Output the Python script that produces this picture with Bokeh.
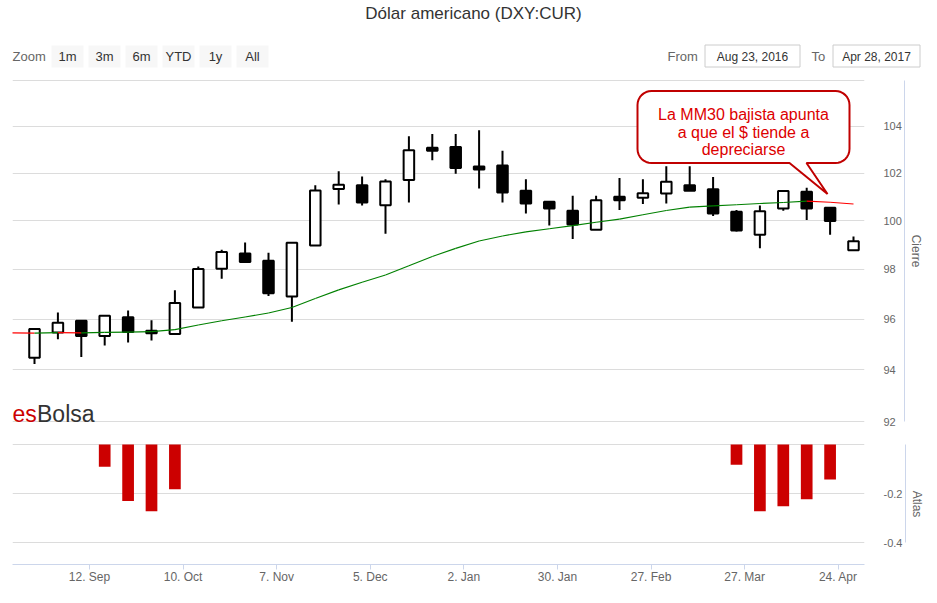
import math
from bokeh.plotting import figure
from bokeh.models import Range1d, LinearAxis, FixedTicker, Grid, ColumnDataSource
from bokeh.layouts import column
from bokeh.embed import file_html
from bokeh.resources import INLINE
from bokeh.core.properties import value

# ---------------- data ----------------
title_text = "Dólar americano (DXY:CUR)"
zoom_buttons = ["1m", "3m", "6m", "YTD", "1y", "All"]
range_from = "Aug 23, 2016"
range_to = "Apr 28, 2017"

# weekly candles (index 0 = first week shown)
opens = [94.47, 95.46, 95.93, 95.33, 96.07, 95.53, 95.41, 96.46, 98.03, 98.65,
         98.35, 96.90, 98.98, 101.33, 101.49, 100.65, 101.71, 103.08, 103.11, 102.28,
         102.32, 101.25, 100.79, 100.42, 99.63, 101.00, 100.96, 101.14, 101.49, 101.32,
         100.38, 99.42, 100.51, 101.21, 100.54, 98.78]
highs = [95.62, 96.26, 95.95, 96.15, 96.34, 95.95, 97.16, 98.12, 98.80, 99.10,
         98.68, 99.12, 101.49, 102.08, 101.86, 101.74, 103.57, 103.67, 103.67, 103.83,
         102.95, 101.74, 100.82, 101.04, 101.04, 101.79, 101.74, 102.29, 102.29, 101.83,
         100.45, 100.64, 101.28, 101.38, 100.56, 99.35]
lows = [94.22, 95.20, 94.50, 94.95, 95.07, 95.15, 95.40, 96.45, 97.62, 98.26,
        96.92, 95.89, 98.97, 100.68, 100.64, 99.46, 100.76, 102.55, 101.97, 101.35,
        100.76, 100.30, 99.80, 99.25, 99.62, 100.45, 100.70, 100.72, 101.24, 100.20,
        99.56, 98.87, 100.42, 100.03, 99.42, 98.76]
closes = [95.60, 95.85, 95.33, 96.13, 95.48, 95.44, 96.64, 98.02, 98.71, 98.30,
          97.03, 99.09, 101.27, 101.51, 100.76, 101.65, 102.97, 102.95, 102.22, 102.15,
          101.18, 100.72, 100.51, 99.85, 100.86, 100.86, 101.15, 101.63, 101.26, 100.30,
          99.60, 100.40, 101.24, 100.51, 99.99, 99.15]

# 30-period moving average, from the week before the first candle (index -1) to the last
ma30 = [95.45, 95.44, 95.46, 95.45, 95.47, 95.48, 95.50, 95.58, 95.76, 95.93,
        96.08, 96.24, 96.46, 96.82, 97.17, 97.48, 97.77, 98.15, 98.53, 98.86,
        99.16, 99.37, 99.54, 99.67, 99.80, 99.94, 100.07, 100.25, 100.43, 100.57,
        100.62, 100.67, 100.72, 100.76, 100.82, 100.77, 100.70]

atlas_weeks = [3, 4, 5, 6, 30, 31, 32, 33, 34]
atlas_values = [-0.091, -0.231, -0.272, -0.183, -0.083, -0.272, -0.252, -0.223, -0.143]

price_ticks = [92, 94, 96, 98, 100, 102, 104, 106]
price_labels = ["92", "94", "96", "98", "100", "102", "104", ""]
atlas_ticks = [0.0, -0.2, -0.4]
atlas_labels = ["", "-0.2", "-0.4"]
x_tick_labels = ["12. Sep", "10. Oct", "7. Nov", "5. Dec", "2. Jan",
                 "30. Jan", "27. Feb", "27. Mar", "24. Apr"]
callout_lines = ["La MM30 bajista apunta", "a que el $ tiende a", "depreciarse"]
brand = ["es", "Bolsa"]

# ---------------- styles / layout ----------------
FONT = "Liberation Sans"
GRID_C = "#dcdcdc"
AXIS_C = "#ccd6eb"
LABEL_C = "#666666"
W = 921
LEFT = 12
SLOT = 23.4          # px per weekly candle
FIRST = 22.0         # px from frame left to first candle
FRAME_W = 852
xr = Range1d(-FIRST / SLOT, (FRAME_W - FIRST) / SLOT)

HDR_H = 76
TOP_FRAME_H = 343
TOP_PAD = 1          # px between frame edge and outer grid lines
k = math.log(price_ticks[-1] / price_ticks[0]) / (TOP_FRAME_H - 2 * TOP_PAD)
yr_top = Range1d(price_ticks[0] * math.exp(-k * TOP_PAD), price_ticks[-1] * math.exp(k * TOP_PAD))

BOT_FRAME_H = 121
b_scale = 98 / 0.4   # px per Atlas unit
yr_bot = Range1d(atlas_ticks[-1] - 22 / b_scale, atlas_ticks[0] + 1 / b_scale)


def xdata(fx):
    return xr.start + fx / SLOT


def ydata(fy):
    return yr_top.end * math.exp(-fy * k)


def fx_of(i):
    return (i - xr.start) * SLOT


def fy_of(v):
    return math.log(yr_top.end / v) / k


def right_axes(p, ticks, labels, bounds, title):
    ax1 = LinearAxis(ticker=FixedTicker(ticks=ticks, minor_ticks=[]),
                     major_label_overrides=dict(zip(ticks, labels)),
                     axis_line_color=None, major_tick_line_color=None,
                     minor_tick_line_color=None,
                     major_tick_in=0, major_tick_out=0, minor_tick_in=0, minor_tick_out=0,
                     major_label_standoff=19, major_label_text_font=FONT,
                     major_label_text_font_size="11px", major_label_text_color=LABEL_C,
                     major_label_text_baseline="bottom")
    ax2 = LinearAxis(ticker=FixedTicker(ticks=ticks, minor_ticks=[]),
                     major_label_overrides={t: "" for t in ticks},
                     bounds=bounds, axis_line_color=AXIS_C, axis_line_width=1,
                     major_tick_line_color=None, minor_tick_line_color=None,
                     major_tick_in=0, major_tick_out=0, minor_tick_in=0, minor_tick_out=0,
                     major_label_standoff=0, major_label_text_font_size="11px",
                     axis_label=title, axis_label_standoff=4,
                     axis_label_text_font=FONT, axis_label_text_font_size="12px",
                     axis_label_text_font_style="normal", axis_label_text_color=LABEL_C)
    p.add_layout(ax1, "right")
    p.add_layout(ax2, "right")


# ---------------- header ----------------
hdr = figure(frame_width=W, frame_height=HDR_H, x_range=Range1d(0, W), y_range=Range1d(HDR_H, 0),
             toolbar_location=None, output_backend="svg", min_border=0,
             x_axis_location=None, y_axis_location=None, outline_line_color=None)
hdr.frame_align = False
hdr.grid.visible = False
hdr.text(x=[473], y=[13], text=[title_text], text_align="center", text_baseline="middle",
         text_font=value(FONT), text_font_size="17px", text_color="#333333")
hdr.text(x=[12], y=[56], text=["Zoom"], text_align="left", text_baseline="middle",
         text_font=value(FONT), text_font_size="13px", text_color=LABEL_C)
b_left = [51 + 37 * j for j in range(len(zoom_buttons))]
hdr.quad(left=b_left, right=[b + 32 for b in b_left], top=45, bottom=67,
         fill_color="#f7f7f7", line_color=None)
hdr.text(x=[b + 16 for b in b_left], y=[56] * len(zoom_buttons), text=zoom_buttons,
         text_align="center", text_baseline="middle", text_font=value(FONT),
         text_font_size="13px", text_color="#333333")
hdr.text(x=[667, 811], y=[56, 56], text=["From", "To"], text_align="left",
         text_baseline="middle", text_font=value(FONT), text_font_size="13px",
         text_color=LABEL_C)
hdr.quad(left=[704.5, 832.5], right=[799.5, 919.5], top=44.5, bottom=66.5,
         fill_color="white", line_color="#cccccc", line_width=1)
hdr.text(x=[752, 876], y=[56, 56], text=[range_from, range_to], text_align="center",
         text_baseline="middle", text_font=value(FONT), text_font_size="12px",
         text_color="#333333")

# ---------------- price pane ----------------
top = figure(frame_width=FRAME_W, frame_height=TOP_FRAME_H, x_range=xr, y_range=yr_top,
             y_axis_type="log", toolbar_location=None, output_backend="svg",
             x_axis_location=None, y_axis_location=None,
             min_border_left=LEFT, min_border_right=0, min_border_top=3, min_border_bottom=10,
             outline_line_color=None)
top.grid.visible = False
top.add_layout(Grid(dimension=1, ticker=FixedTicker(ticks=price_ticks, minor_ticks=[]),
                    grid_line_color=GRID_C, grid_line_width=1))
right_axes(top, price_ticks[:-1], price_labels[:-1], (price_ticks[0], price_ticks[-1]), "Cierre")

idx = list(range(len(opens)))
src = ColumnDataSource(dict(
    idx=idx, open=opens, high=highs, low=lows, close=closes,
    top=[max(o, c) for o, c in zip(opens, closes)],
    bottom=[min(o, c) for o, c in zip(opens, closes)],
    fill=["white" if c >= o else "black" for o, c in zip(opens, closes)],
))
top.segment(x0="idx", y0="low", x1="idx", y1="high", source=src,
            line_color="black", line_width=2)
top.vbar(x="idx", width=0.45, top="top", bottom="bottom", source=src,
         fill_color="fill", line_color="black", line_width=2)

ma_idx = list(range(-1, len(ma30) - 1))
ma_col = ["#ff0000" if b < a else "#008000" for a, b in zip(ma30[:-1], ma30[1:])]
top.segment(x0=ma_idx[:-1], y0=ma30[:-1], x1=ma_idx[1:], y1=ma30[1:],
            line_color=ma_col, line_width=1.1)

# brand watermark (bottom-left of the price pane)
top.text(x=[xdata(0), xdata(24.5)], y=[ydata(334), ydata(334)], text=brand,
         text_align="left", text_baseline="alphabetic", text_font=value(FONT),
         text_font_size="23px", text_color=["#cc0000", "#333333"])

# callout pointing at the falling MM30
anchor = 34
tip_x = fx_of(anchor) - 2.6
tip_y = fy_of(ma30[anchor + 1]) - 8.3
l, r, t, b, rad = tip_x - 190, tip_x + 22, tip_y - 103, tip_y - 31, 14
pts = []


def arc(cx, cy, a0, a1, n=8):
    for s in range(n + 1):
        a = a0 + (a1 - a0) * s / n
        pts.append((cx + rad * math.cos(a), cy + rad * math.sin(a)))


arc(l + rad, t + rad, math.pi, 1.5 * math.pi)
arc(r - rad, t + rad, 1.5 * math.pi, 2 * math.pi)
arc(r - rad, b - rad, 0, 0.5 * math.pi)
pts += [(tip_x - 21, b), (tip_x, tip_y), (tip_x - 38, b)]
arc(l + rad, b - rad, 0.5 * math.pi, math.pi)
top.patch(x=[xdata(px) for px, _ in pts], y=[ydata(py) for _, py in pts],
          fill_color="white", line_color="#c00000", line_width=2)
top.text(x=[xdata(tip_x - 84)] * 3, y=[ydata(tip_y - 80), ydata(tip_y - 62), ydata(tip_y - 45)],
         text=callout_lines, text_align="center", text_baseline="alphabetic",
         text_font=value(FONT), text_font_size="16px", text_color="#dd0000")

# ---------------- Atlas pane ----------------
bot = figure(frame_width=FRAME_W, frame_height=BOT_FRAME_H, x_range=xr, y_range=yr_bot,
             toolbar_location=None, output_backend="svg", y_axis_location=None,
             min_border_left=LEFT, min_border_right=0, min_border_top=11, min_border_bottom=0,
             outline_line_color=None)
bot.grid.visible = False
bot.add_layout(Grid(dimension=1, ticker=FixedTicker(ticks=atlas_ticks, minor_ticks=[]),
                    grid_line_color=GRID_C, grid_line_width=1))
right_axes(bot, atlas_ticks[1:], atlas_labels[1:], (atlas_ticks[-1], atlas_ticks[0]), "Atlas")

x_ticks = [2.35 + 4 * j for j in range(len(x_tick_labels))]
xa = bot.xaxis[0]
xa.ticker = FixedTicker(ticks=x_ticks, minor_ticks=[])
xa.major_label_overrides = dict(zip(x_ticks, x_tick_labels))
xa.axis_line_color = AXIS_C
xa.major_tick_line_color = AXIS_C
xa.minor_tick_line_color = None
xa.major_tick_in = 0
xa.major_tick_out = 5
xa.minor_tick_in = 0
xa.minor_tick_out = 0
xa.major_label_standoff = 0
xa.major_label_text_font = FONT
xa.major_label_text_font_size = "12px"
xa.major_label_text_color = LABEL_C

bot.vbar(x=atlas_weeks, width=0.5, top=0, bottom=atlas_values,
         fill_color="#cc0000", line_color=None)

layout = column(hdr, top, bot, spacing=0)
open("out.html", "w").write(file_html(layout, INLINE, title="Dólar americano"))
